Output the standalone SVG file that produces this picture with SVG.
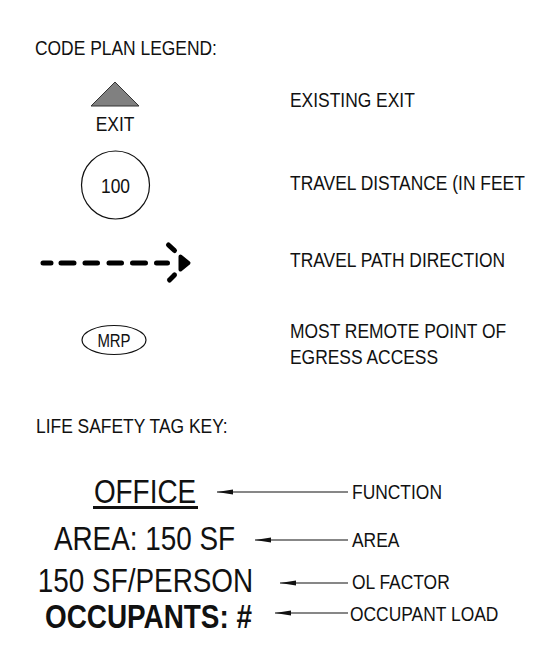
<svg xmlns="http://www.w3.org/2000/svg" width="533" height="663" viewBox="0 0 533 663">
<defs>
<style>
text{font-family:"Liberation Sans",Arial,sans-serif;fill:#111;}
.s{font-size:21px;}
.m{font-size:18px;}
.big{font-size:33px;}
.bold{font-weight:bold;}
.c{text-anchor:middle;}
.ln{stroke:#111;stroke-width:1.2;fill:none;}
.dash{stroke:#000;stroke-width:5;fill:none;stroke-linecap:round;}
</style>
<marker id="ah" viewBox="0 0 16 6" refX="0" refY="3" markerWidth="16" markerHeight="6" markerUnits="userSpaceOnUse" orient="auto">
<path d="M0,3 L16,0.6 L16,5.4 Z" fill="#111"/>
</marker>
</defs>
<rect width="533" height="663" fill="#fff"/>
<text id="title1" class="s" transform="translate(35,55) scale(0.83,1)">CODE PLAN LEGEND:</text>
<g id="exit">
<polygon points="115,82 91,106 139,106" fill="#808080" stroke="#333" stroke-width="1"/>
<text class="s c" transform="translate(115,131) scale(0.83,1)">EXIT</text>
<text class="s" transform="translate(290,107) scale(0.83,1)">EXISTING EXIT</text>
</g>
<g id="travel-distance">
<circle cx="115.5" cy="185" r="34" fill="none" stroke="#111" stroke-width="1.2"/>
<text class="s c" transform="translate(115.5,193) scale(0.83,1)">100</text>
<text class="s" transform="translate(290,190) scale(0.83,1)">TRAVEL DISTANCE (IN FEET</text>
</g>
<g id="travel-path">
<path class="dash" d="M43,263 H51 M61,263 H74 M85,263 H97.5 M109,263 H121.5 M132.5,263 H145.5 M156.5,263 H167.5"/>
<path class="dash" d="M168.5,245 L174.5,250.5"/>
<path d="M180.5,256.5 L188.5,263 L180.5,269.5 Z" fill="#000" stroke="#000" stroke-width="4" stroke-linejoin="round"/>
<path class="dash" d="M174.5,275 L169.5,280"/>
<text class="s" transform="translate(290,267) scale(0.83,1)">TRAVEL PATH DIRECTION</text>
</g>
<g id="mrp">
<ellipse cx="114" cy="340" rx="32" ry="14.5" fill="none" stroke="#111" stroke-width="1.2"/>
<text class="m c" transform="translate(114,346.5) scale(0.83,1)">MRP</text>
<text class="s" transform="translate(290,338) scale(0.83,1)">MOST REMOTE POINT OF</text>
<text class="s" transform="translate(290,364) scale(0.83,1)">EGRESS ACCESS</text>
</g>
<text id="title2" class="s" transform="translate(36,433) scale(0.83,1)">LIFE SAFETY TAG KEY:</text>
<g id="tag-function">
<text class="big c" transform="translate(145,503) scale(0.845,1)">OFFICE</text>
<rect x="93" y="506" width="105" height="3" fill="#111"/>
<text class="s" transform="translate(352,499) scale(0.83,1)">FUNCTION</text>
</g>
<g id="tag-area">
<text class="big c" transform="translate(144.5,550) scale(0.845,1)">AREA: 150 SF</text>
<text class="s" transform="translate(352,547) scale(0.83,1)">AREA</text>
</g>
<g id="tag-ol">
<text class="big c" transform="translate(145.5,592) scale(0.845,1)">150 SF/PERSON</text>
<text class="s" transform="translate(352,589) scale(0.83,1)">OL FACTOR</text>
</g>
<g id="tag-occ">
<text class="big bold c" transform="translate(148.5,628) scale(0.845,1)">OCCUPANTS: #</text>
<text class="s" transform="translate(350,621) scale(0.83,1)">OCCUPANT LOAD</text>
</g>
<g id="connectors">
<line class="ln" x1="217" y1="492" x2="348" y2="492" marker-start="url(#ah)"/>
<line class="ln" x1="255" y1="540" x2="348" y2="540" marker-start="url(#ah)"/>
<line class="ln" x1="280" y1="583" x2="348" y2="583" marker-start="url(#ah)"/>
<line class="ln" x1="275" y1="613" x2="348" y2="613" marker-start="url(#ah)"/>
</g>
</svg>
